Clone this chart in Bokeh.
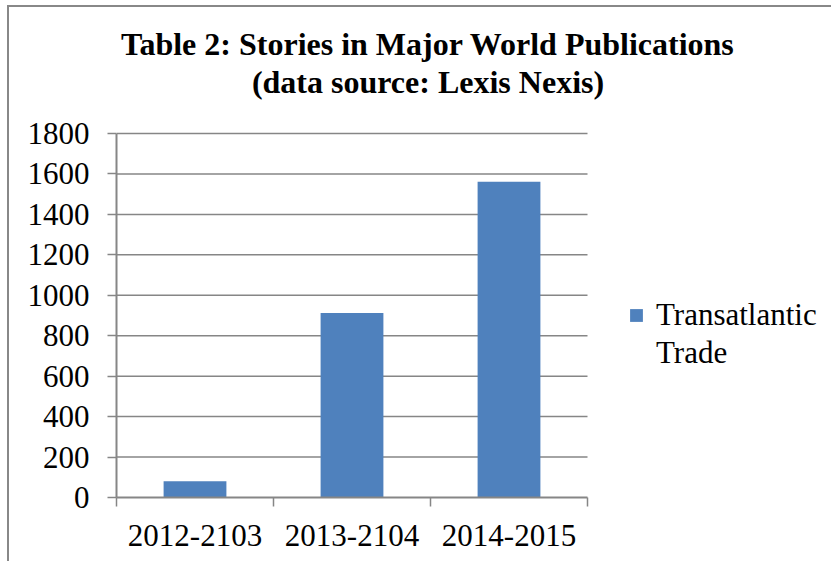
from bokeh.plotting import figure
from bokeh.models import (Range1d, LinearAxis, FixedTicker, Legend, LegendItem, Label)
from bokeh.embed import file_html
from bokeh.resources import INLINE

categories = ["2012-2103", "2013-2104", "2014-2015"]
values = [80, 912, 1561]
legend_lines = ["Transatlantic", "Trade"]
y_ticks = [0, 200, 400, 600, 800, 1000, 1200, 1400, 1600, 1800]
title_line1 = "Table 2: Stories in Major World Publications"
title_line2 = "(data source: Lexis Nexis)"

n = len(categories)
centers = [i + 0.5 for i in range(n)]
bounds = list(range(n + 1))

FONT = "Liberation Serif"
GREY = "#868686"
BAR = "#4F81BD"

W, H = 824, 556
LEFT, BOTTOM = 107, 66
cat_px = 157.0                      # pixels per category
val_px = 364.0 / y_ticks[-1]        # pixels per unit
x_end = (W - LEFT) / cat_px
y_end = (H - BOTTOM) / val_px

p = figure(width=W, height=H, output_backend="svg", toolbar_location=None,
           x_range=Range1d(0, x_end), y_range=Range1d(0, y_end),
           x_axis_location=None, y_axis_location=None,
           min_border_left=LEFT, min_border_right=0, min_border_top=0, min_border_bottom=BOTTOM,
           outline_line_color=None)
p.styles = {"border-left": "2px solid #888888", "border-top": "2px solid #888888",
            "margin-left": "7px", "margin-top": "5px"}
p.xgrid.visible = False
p.ygrid.visible = False

# horizontal grid lines limited to the category area
p.segment(x0=[0] * (len(y_ticks) - 1), x1=[n] * (len(y_ticks) - 1),
          y0=y_ticks[1:], y1=y_ticks[1:], line_color=GREY, line_width=1.5)

r = p.vbar(x=centers, top=values, width=0.4, fill_color=BAR, line_color=None)
r_blank = p.vbar(x=[], top=[], width=0.4, fill_alpha=0, line_alpha=0)

yax = LinearAxis(ticker=FixedTicker(ticks=y_ticks), bounds=(0, y_ticks[-1]))
yax.axis_line_color = GREY
yax.axis_line_width = 2
yax.major_tick_line_color = GREY
yax.major_tick_line_width = 1.5
yax.major_tick_out = 9
yax.major_tick_in = 0
yax.minor_tick_line_color = None
yax.major_label_standoff = 18
yax.major_label_text_font = FONT
yax.major_label_text_font_size = "31px"
yax.major_label_text_color = "#000000"
p.add_layout(yax, "left")

xax = LinearAxis(ticker=FixedTicker(ticks=centers, minor_ticks=bounds), bounds=(0, n))
xax.major_label_overrides = {c: lab for c, lab in zip(centers, categories)}
xax.axis_line_color = GREY
xax.axis_line_width = 2
xax.major_tick_line_color = None
xax.major_tick_out = 0
xax.major_tick_in = 0
xax.minor_tick_line_color = GREY
xax.minor_tick_line_width = 1.5
xax.minor_tick_out = 9
xax.minor_tick_in = 0
xax.major_label_standoff = 18
xax.major_label_text_font = FONT
xax.major_label_text_font_size = "31px"
xax.major_label_text_color = "#000000"
p.add_layout(xax, "below")

legend = Legend(items=[LegendItem(label=legend_lines[0], renderers=[r]),
                       LegendItem(label=legend_lines[1], renderers=[r_blank])],
                location=(512, 126), orientation="vertical")
legend.border_line_color = None
legend.background_fill_alpha = 0
legend.padding = 0
legend.margin = 0
legend.spacing = 2
legend.glyph_width = 16
legend.glyph_height = 16
legend.label_standoff = 12
legend.label_text_font = FONT
legend.label_text_font_size = "31px"
legend.label_text_color = "#000000"
p.add_layout(legend, "center")

t1 = Label(x=311.5, y=453.7, x_units="screen", y_units="screen", text=title_line1,
           text_align="center", text_baseline="alphabetic", text_font=FONT,
           text_font_size="32px", text_font_style="bold", text_color="#000000")
t2 = Label(x=311.5, y=416, x_units="screen", y_units="screen", text=title_line2,
           text_align="center", text_baseline="alphabetic", text_font=FONT,
           text_font_size="32px", text_font_style="bold", text_color="#000000")
p.add_layout(t1)
p.add_layout(t2)

open("out.html", "w").write(file_html(p, INLINE))
